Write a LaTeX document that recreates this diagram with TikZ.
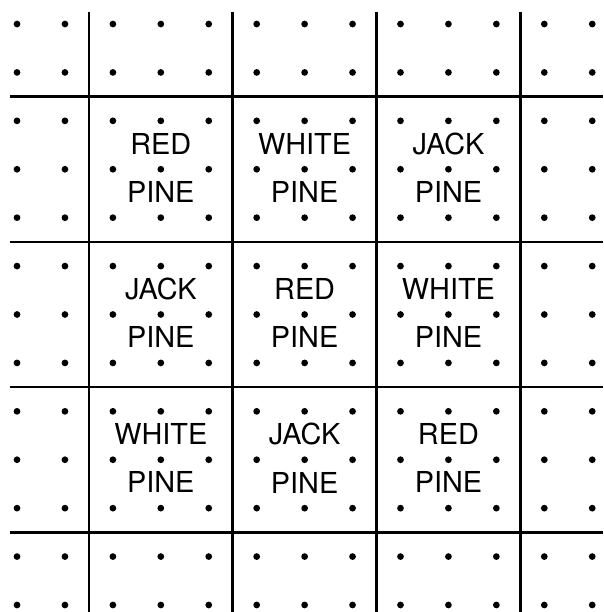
\documentclass[tikz,border=0pt]{standalone}
\usepackage{fontspec}
\setmainfont{TeX Gyre Heros}
\usetikzlibrary{calc}

\tikzset{
  plotline/.style={line width=1.3pt},
  pine/.style={align=center,inner sep=0pt,font=\fontsize{13.7}{22.9}\selectfont}
}

\begin{document}
\begin{tikzpicture}[x=0.8cm,y=-0.808cm]
  \useasboundingbox (-0.355,-0.496) rectangle (12.23,12.145);

  % plot boundaries
  \foreach \k in {1.5,4.5,7.5,10.5} {
    \draw[plotline] (\k,-0.25) -- (\k,12.145);
    \draw[plotline] (-0.15,\k) -- (12.23,\k);
  }

  % planting spots
  \foreach \i in {0,...,12}
    \foreach \j in {0,...,12}
      \fill (\i,\j) circle (1.6pt);

  % species in each plot
  \foreach \x/\y/\s/\n in {3/3/RED/p11, 6/3/WHITE/p12, 9/3/JACK/p13,
                           3/6/JACK/p21, 6/6/RED/p22, 9/6/WHITE/p23,
                           3/9/WHITE/p31, 6/9/JACK/p32, 9/9/RED/p33}
    \node[pine] (\n) at (\x,\y-0.03) {\s\\PINE};
\end{tikzpicture}
\end{document}
